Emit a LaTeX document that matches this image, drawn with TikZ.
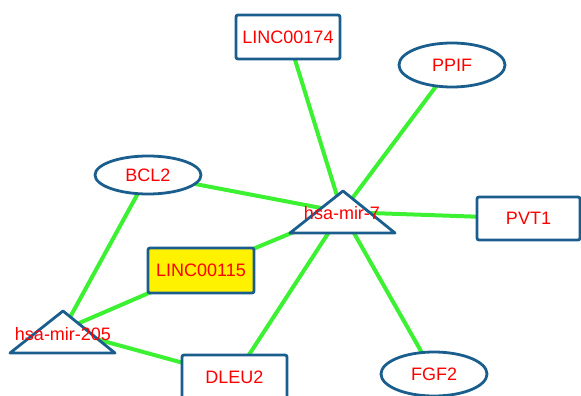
\documentclass[tikz,border=0pt]{standalone}
\usepackage{fontspec}
\setmainfont{Liberation Sans}
\usetikzlibrary{shapes.geometric,backgrounds}
\definecolor{nodeblue}{RGB}{26,94,142}
\definecolor{edgegreen}{RGB}{60,240,50}
\definecolor{labelred}{RGB}{255,0,0}
\begin{document}
\begin{tikzpicture}[x=1pt,y=-1pt,
  base/.style={draw=nodeblue, line width=2.8pt, text=labelred, font=\fontsize{18}{21}\selectfont, inner sep=0pt},
  gbox/.style={base, rectangle, rounded corners=2pt, fill=white},
  goval/.style={base, ellipse, fill=white},
  tri/.style={draw=nodeblue, line width=2.8pt, fill=white, line join=round},
  mirlabel/.style={text=labelred, font=\fontsize{18}{21}\selectfont, inner sep=0pt},
  edge/.style={draw=edgegreen, line width=4pt}]
\useasboundingbox (0,0) rectangle (581,396);
% nodes
\node[gbox, minimum width=104pt, minimum height=44pt] (linc174) at (288,37) {LINC00174};
\node[goval, minimum width=106pt, minimum height=44pt] (ppif) at (452,65) {PPIF};
\node[goval, minimum width=106pt, minimum height=38pt] (bcl2) at (148,175) {BCL2};
\node[gbox, minimum width=103pt, minimum height=43pt] (pvt1) at (528.5,218.5) {PVT1};
\node[gbox, fill=yellow, minimum width=106pt, minimum height=45pt] (linc115) at (201,270.5) {LINC00115};
\node[gbox, minimum width=105pt, minimum height=44pt] (dleu2) at (234.5,377) {DLEU2};
\node[goval, minimum width=106pt, minimum height=44pt] (fgf2) at (434,374) {FGF2};
% triangles
\path[tri] (343,191) -- (395,233) -- (290,233) -- cycle;
\path[tri] (63,311) -- (115,353) -- (10,353) -- cycle;
\coordinate (mir7c) at (342,212);
\coordinate (mir205c) at (63,330);
\node[mirlabel] (mir7) at (342,213) {hsa-mir-7};
\node[mirlabel] (mir205) at (63,334) {hsa-mir-205};
% edges behind everything
\begin{pgfonlayer}{background}
\path[edge] (mir7c) -- (linc174.center);
\path[edge] (mir7c) -- (ppif.center);
\path[edge] (mir7c) -- (pvt1.center);
\path[edge] (mir7c) -- (bcl2.center);
\path[edge] (mir7c) -- (linc115.center);
\path[edge] (mir7c) -- (dleu2.center);
\path[edge] (mir7c) -- (fgf2.center);
\path[edge] (mir205c) -- (bcl2.center);
\path[edge] (mir205c) -- (linc115.center);
\path[edge] (mir205c) -- (dleu2.center);
\end{pgfonlayer}
\end{tikzpicture}
\end{document}
